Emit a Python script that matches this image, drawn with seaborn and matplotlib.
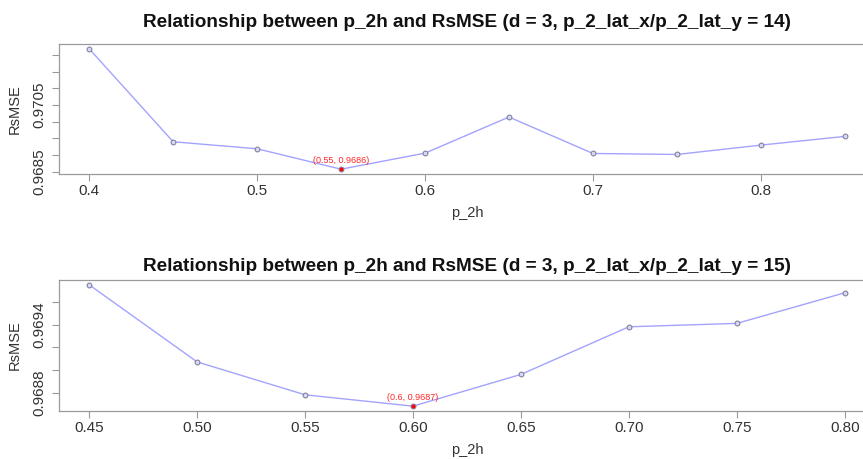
import numpy as np
import pandas as pd
import matplotlib
matplotlib.use("Agg")
import matplotlib.pyplot as plt
import seaborn as sns

# RsMSE for each p_2h value, d = 3, two lattice ratios
p2h_14 = [0.40, 0.45, 0.50, 0.55, 0.60, 0.65, 0.70, 0.75, 0.80, 0.85]
rsmse_14 = [0.97218, 0.96940, 0.96919, 0.96858, 0.96906, 0.97014, 0.96905, 0.96902, 0.96930, 0.96956]

p2h_15 = [0.45, 0.50, 0.55, 0.60, 0.65, 0.70, 0.75, 0.80]
rsmse_15 = [0.96975, 0.96907, 0.96878, 0.96868, 0.96896, 0.96938, 0.96941, 0.96968]

xticks_14 = [0.4, 0.5, 0.6, 0.7, 0.8]
xticklabels_14 = ["0.4", "0.5", "0.6", "0.7", "0.8"]
yticks_14 = [0.9685, 0.9690, 0.9695, 0.9700, 0.9705, 0.9710, 0.9715, 0.9720]
ylabeled_14 = ["0.9685", "0.9705"]

xticks_15 = [0.45, 0.50, 0.55, 0.60, 0.65, 0.70, 0.75, 0.80]
xticklabels_15 = ["0.45", "0.50", "0.55", "0.60", "0.65", "0.70", "0.75", "0.80"]
yticks_15 = [0.9688, 0.9690, 0.9692, 0.9694, 0.9696]
ylabeled_15 = ["0.9688", "0.9694"]

sns.set_style("white")
plt.rcParams["font.family"] = ["Liberation Sans", "DejaVu Sans"]

W, H = 863, 459
fig = plt.figure(figsize=(W / 100, H / 100), dpi=100)

def px_axes(left, top, right, bottom):
    return fig.add_axes([left / W, 1 - bottom / H, (right - left) / W, (bottom - top) / H])

panels = [
    (px_axes(59, 44, 875, 174), p2h_14, rsmse_14, 14,
     xticks_14, xticklabels_14, yticks_14, ylabeled_14, 12),
    (px_axes(59, 280, 875, 411), p2h_15, rsmse_15, 15,
     xticks_15, xticklabels_15, yticks_15, ylabeled_15, 6.5),
]

line_col = "#a3a3ff"
frame_col = "#9a9a9a"
text_col = "#333333"

for ax, xs, ys, ratio, xt, xtl, yt, ylab, title_pad in panels:
    df = pd.DataFrame({"p_2h": xs, "RsMSE": ys})
    sns.lineplot(data=df, x="p_2h", y="RsMSE", ax=ax, color=line_col, lw=1.0,
                 marker="o", markersize=3.5, markerfacecolor="#d8d8f0",
                 markeredgecolor="#777799", markeredgewidth=0.7)

    # R-style 4% padding around the data range
    xr = max(xs) - min(xs)
    yr = max(ys) - min(ys)
    ax.set_xlim(min(xs) - 0.04 * xr, max(xs) + 0.04 * xr)
    ax.set_ylim(min(ys) - 0.04 * yr, max(ys) + 0.04 * yr)

    # highlight the minimum
    i = int(np.argmin(ys))
    ax.scatter([xs[i]], [ys[i]], color="red", s=8, zorder=5, linewidths=0)
    ax.annotate(f"({xs[i]:g}, {ys[i]:.4f})", (xs[i], ys[i]), xytext=(0, 3),
                textcoords="offset points", ha="center", va="bottom",
                color="red", fontsize=6.5, alpha=0.85)

    ax.set_xticks(xt)
    ax.set_xticklabels(xtl)
    ax.set_yticks(yt)
    ax.set_yticklabels([f"{v:.4f}" if f"{v:.4f}" in ylab else "" for v in yt],
                       rotation=90, va="center")
    ax.tick_params(axis="both", direction="out", length=5, width=0.8,
                   color=frame_col, labelcolor=text_col, labelsize=11,
                   left=True, bottom=True)
    ax.tick_params(axis="x", pad=2)
    ax.tick_params(axis="y", pad=4)
    for s in ax.spines.values():
        s.set_visible(True)
        s.set_color(frame_col)
        s.set_linewidth(0.9)

    ax.set_xlabel("p_2h", fontsize=10.5, color=text_col, labelpad=6)
    ax.set_ylabel("RsMSE", fontsize=10.5, color=text_col, labelpad=8)
    ax.set_title(f"Relationship between p_2h and RsMSE (d = 3, p_2_lat_x/p_2_lat_y = {ratio})",
                 fontsize=13.7, fontweight="bold", color="#111111", pad=title_pad)

fig.savefig("out.png", dpi=100)
